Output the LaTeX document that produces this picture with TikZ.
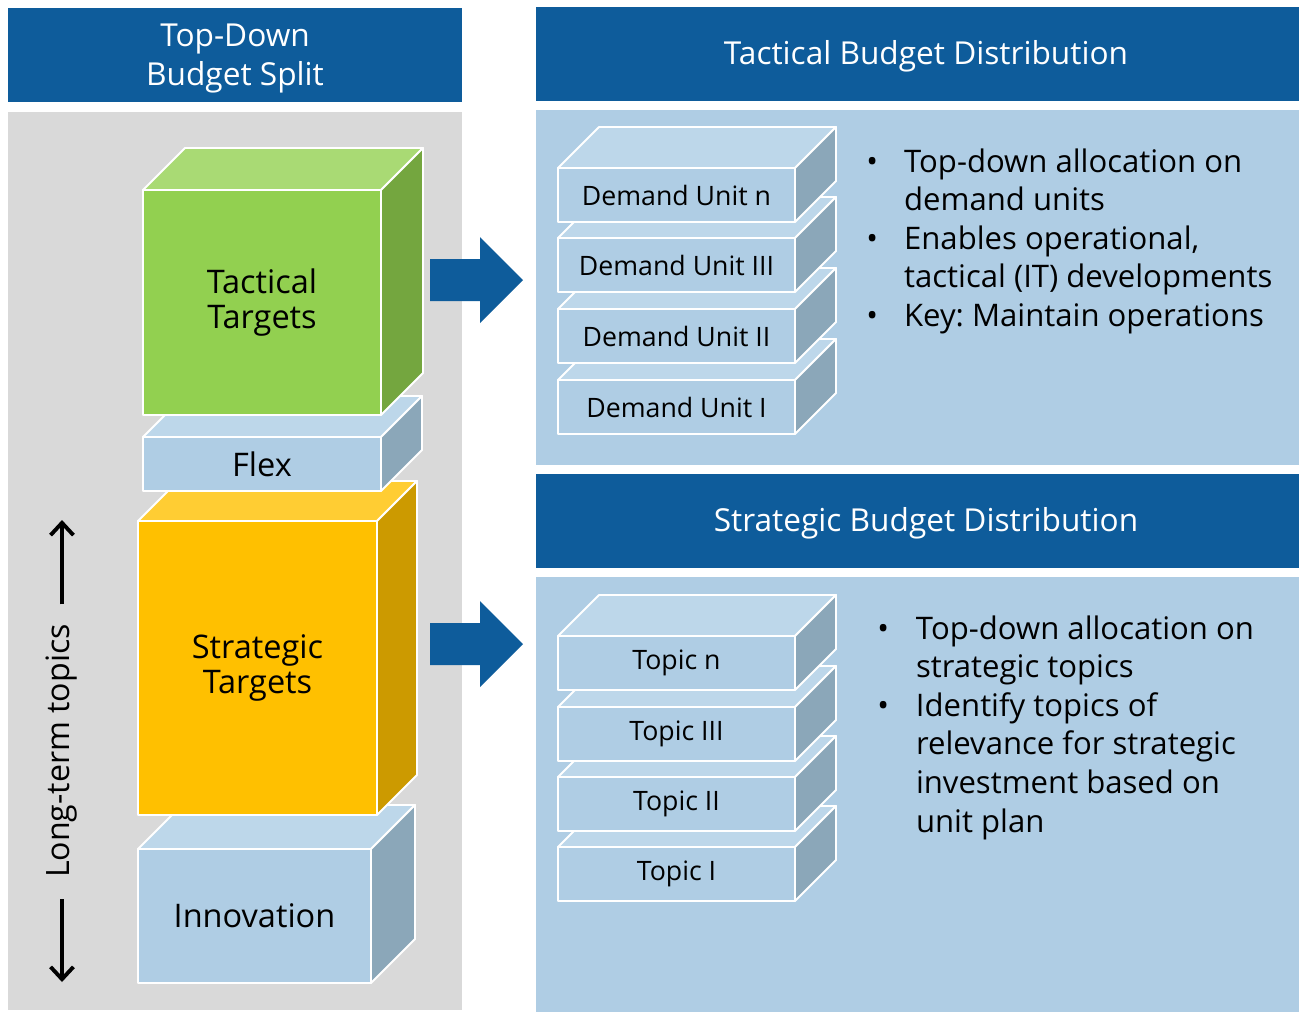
\documentclass[tikz,border=0pt]{standalone}
\usepackage{fontspec}
\setmainfont{Open Sans}
\usepackage{tikz}
\usetikzlibrary{positioning,arrows.meta}

\definecolor{HeadBlue}{HTML}{0E5C9B}
\definecolor{PanelGray}{HTML}{D9D9D9}
\definecolor{PanelBlue}{HTML}{AFCDE4}
\definecolor{GreenFront}{HTML}{92D050}
\definecolor{GreenTop}{HTML}{A9DA74}
\definecolor{GreenSide}{HTML}{74A63F}
\definecolor{GoldFront}{HTML}{FFC000}
\definecolor{GoldTop}{HTML}{FFCD33}
\definecolor{GoldSide}{HTML}{CC9A00}
\definecolor{IceFront}{HTML}{AFCDE4}
\definecolor{IceTop}{HTML}{BDD7EA}
\definecolor{IceSide}{HTML}{8BA7B9}

% cuboid: name, x, y (front top left), width, height, depth, palette, label
\newcommand{\cuboid}[8]{%
    \node[cubefront, fill=#7Front, minimum width={#4*0.02cm}, minimum height={#5*0.02cm}] (#1) at ({#2+#4/2},{#3+#5/2}) {#8};
    \filldraw[cubeedge, fill=#7Top] (#1.north west) -- ++(#6,-#6) -- ++(#4,0) -- (#1.north east) -- cycle;
    \filldraw[cubeedge, fill=#7Side] (#1.north east) -- ++(#6,-#6) -- ++(0,#5) -- (#1.south east) -- cycle;
}

\begin{document}
\frenchspacing
\begin{tikzpicture}[x=0.02cm, y=-0.02cm,
    header/.style={fill=HeadBlue, text=white, align=center, inner sep=0pt, font=\fontsize{18}{22}\selectfont},
    cubeedge/.style={draw=white, line width=1.1pt, line join=round},
    cubefront/.style={cubeedge, rectangle, inner sep=0pt, outer sep=0pt, align=center, font=\fontsize{18.5}{20}\selectfont},
    smallcube/.style={font=\fontsize{15.2}{18}\selectfont},
    bluearrow/.style={fill=HeadBlue},
    ltarrow/.style={line width=2.2pt, -{Straight Barb[length=7pt, width=13pt, line width=2.2pt]}},
    bullets/.style={anchor=base west, inner sep=0pt, font=\fontsize{17.7}{22}\selectfont}]
    \useasboundingbox[fill=white] (0,0) rectangle (1299,1012);

    % Headers and panels
    \node[header, text depth=0pt, minimum width=454*0.02cm, minimum height=94*0.02cm] (splithead) at (235,55) {Top-Down\\Budget Split};
    \node[header, text depth=2pt, minimum width=780*0.02cm, minimum height=94*0.02cm] (tacthead) at (926,54) {Tactical Budget Distribution};
    \node[header, text depth=2pt, minimum width=780*0.02cm, minimum height=94*0.02cm] (strathead) at (926,521) {Strategic Budget Distribution};
    \fill[PanelGray] (8,112) rectangle (462,1010);
    \fill[PanelBlue] (536,110) rectangle (1316,465);
    \fill[PanelBlue] (536,577) rectangle (1316,1012);

    % Budget split stack (drawn bottom up)
    \cuboid{innov}{138}{849}{233}{134}{44}{Ice}{Innovation}
    \cuboid{strat}{138}{521}{239}{294}{40}{Gold}{Strategic\\Targets}
    \cuboid{flex}{143}{437}{238}{54}{41}{Ice}{Flex}
    \cuboid{tact}{143}{190}{238}{225}{42}{Green}{Tactical\\Targets}

    % Long-term topics axis
    \node[rotate=90, inner sep=0pt, font=\fontsize{18.3}{21}\selectfont] (longterm) at (62,751) {Long-term topics};
    \coordinate (uptip) at (62,520);
    \coordinate (downtip) at (62,982);
    \draw[ltarrow, shorten <=11pt] (longterm.east) -- (uptip);
    \draw[ltarrow, shorten <=12pt] (longterm.west) -- (downtip);

    % Block arrows
    \foreach \y in {280, 644}
        \fill[bluearrow] (430,\y-21) -- (480,\y-21) -- (480,\y-43) -- (523,\y) -- (480,\y+43) -- (480,\y+21) -- (430,\y+21) -- cycle;

    % Demand units
    \begin{scope}[cubefront/.append style={smallcube}]
    \cuboid{du1}{558}{380}{237}{54}{41}{Ice}{Demand Unit I}
    \cuboid{du2}{558}{309}{237}{54}{41}{Ice}{Demand Unit II}
    \cuboid{du3}{558}{238}{237}{54}{41}{Ice}{Demand Unit III}
    \cuboid{dun}{558}{168}{237}{54}{41}{Ice}{Demand Unit n}
    % Topics
    \cuboid{tp1}{558}{847}{237}{54}{41}{Ice}{Topic I}
    \cuboid{tp2}{558}{777}{237}{54}{41}{Ice}{Topic II}
    \cuboid{tp3}{558}{707}{237}{54}{41}{Ice}{Topic III}
    \cuboid{tpn}{558}{636}{237}{54}{41}{Ice}{Topic n}
    \end{scope}

    % Bullet texts
    \node[bullets] (tactlist) at (866,172) {\begin{tabular}[t]{@{}p{21.5pt}@{}l@{}}
        \textbullet & Top-down allocation on\\
                    & demand units\\
        \textbullet & Enables operational,\\
                    & tactical (IT) developments\\
        \textbullet & Key: Maintain operations
        \end{tabular}};
    \node[bullets] (stratlist) at (877,639) {\begin{tabular}[t]{@{}p{22pt}@{}l@{}}
        \textbullet & Top-down allocation on\\
                    & strategic topics\\
        \textbullet & Identify topics of\\
                    & relevance for strategic\\
                    & investment based on\\
                    & unit plan
        \end{tabular}};
\end{tikzpicture}
\end{document}
